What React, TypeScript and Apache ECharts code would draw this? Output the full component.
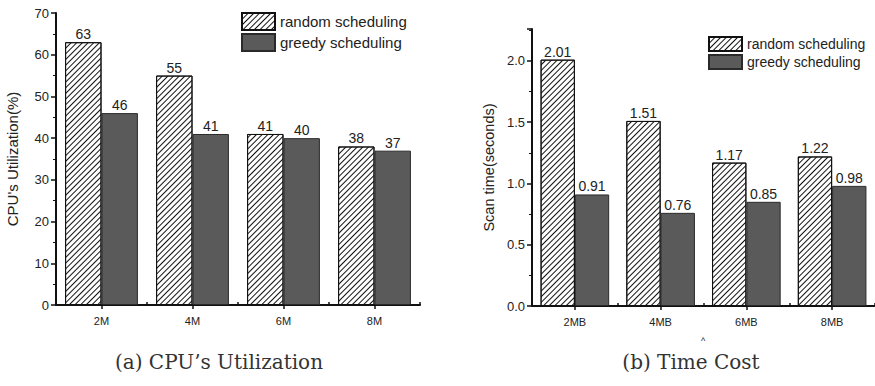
import React, { useEffect, useRef } from "react";
import * as echarts from "echarts";

const cpuCategories = ["2M", "4M", "6M", "8M"];
const cpuRandom = [63, 55, 41, 38];
const cpuGreedy = [46, 41, 40, 37];

const timeCategories = ["2MB", "4MB", "6MB", "8MB"];
const timeRandom = [2.01, 1.51, 1.17, 1.22];
const timeGreedy = [0.91, 0.76, 0.85, 0.98];

const seriesNames = ["random scheduling", "greedy scheduling"];

export default function App() {
  const ref = useRef<HTMLDivElement>(null);
  useEffect(() => {
    if (!ref.current) return;
    const chart = echarts.init(ref.current, undefined, { renderer: "svg" });
    const sans = "Liberation Sans";
    const serif = "DejaVu Serif";
    const hatch = {
      symbol: "rect",
      symbolSize: 1,
      color: "#111",
      backgroundColor: "#fff",
      dashArrayX: [1, 0],
      dashArrayY: [1, 3],
      rotation: -Math.PI / 4,
    };
    const randomStyle = { color: "#fff", borderColor: "#111", borderWidth: 1, decal: hatch };
    const greedyStyle = { color: "#5a5a5a", borderColor: "#2a2a2a", borderWidth: 1 };
    const labelBase = { show: true, position: "top", distance: 1, color: "#222", fontFamily: sans, fontSize: 14 };

    const mkX = (gi: number, cats: string[]) => [
      {
        type: "category",
        gridIndex: gi,
        data: cats,
        axisLine: { lineStyle: { color: "#111", width: 2 } },
        axisTick: { show: true, alignWithLabel: true, length: 4, lineStyle: { color: "#111", width: 1.5 } },
        axisLabel: { color: "#222", fontFamily: sans, fontSize: 11, margin: 10 },
      },
      {
        type: "category",
        gridIndex: gi,
        data: cats,
        position: "bottom",
        axisLine: { show: false },
        axisTick: { show: true, inside: true, length: 3, lineStyle: { color: "#111", width: 1.5 } },
        axisLabel: { show: false },
      },
    ];

    const mkY = (gi: number, min: number, max: number, interval: number, name: string, fmt: (v: number) => string, nameSize: number) => ({
      type: "value",
      gridIndex: gi,
      min,
      max,
      interval,
      name,
      nameLocation: "middle",
      nameGap: 36,
      nameTextStyle: { color: "#222", fontFamily: sans, fontSize: nameSize },
      axisLine: { show: true, lineStyle: { color: "#111", width: 2 } },
      axisTick: { show: true, length: 5, lineStyle: { color: "#111", width: 1.5 } },
      minorTick: { show: true, splitNumber: 2, length: 3, lineStyle: { color: "#111", width: 1 } },
      splitLine: { show: false },
      axisLabel: { color: "#222", fontFamily: sans, fontSize: 13, margin: 7, showMaxLabel: max % interval === 0, formatter: fmt },
    });

    chart.setOption({
      animation: false,
      backgroundColor: "#fff",
      grid: [
        { left: 56, top: 13, width: 364, bottom: 81 },
        { left: 532, top: 29, width: 344, bottom: 80 },
      ],
      legend: [
        {
          data: seriesNames,
          orient: "vertical",
          left: 241,
          top: 12,
          icon: "rect",
          itemWidth: 33,
          itemHeight: 17,
          itemGap: 2,
          textStyle: { color: "#222", fontFamily: sans, fontSize: 15 },
          padding: 0,
        },
        {
          data: seriesNames,
          orient: "vertical",
          left: 708,
          top: 36,
          icon: "rect",
          itemWidth: 33,
          itemHeight: 14,
          itemGap: 2,
          textStyle: { color: "#222", fontFamily: sans, fontSize: 14 },
          padding: 0,
        },
      ],
      xAxis: [...mkX(0, cpuCategories), ...mkX(1, timeCategories)],
      yAxis: [
        mkY(0, 0, 70, 10, "CPU's Utilization(%)", (v: number) => String(v), 15),
        mkY(1, 0, 2.26, 0.5, "Scan time(seconds)", (v: number) => v.toFixed(1), 14.5),
      ],
      graphic: [
        {
          type: "text",
          x: 219,
          y: 362,
          style: { text: "(a) CPU\u2019s Utilization", fontFamily: serif, fontSize: 20, fill: "#333", align: "center", verticalAlign: "middle" },
        },
        {
          type: "text",
          x: 691,
          y: 362,
          style: { text: "(b) Time Cost", fontFamily: serif, fontSize: 20, fill: "#333", align: "center", verticalAlign: "middle" },
        },
        {
          type: "text",
          x: 703,
          y: 341,
          style: { text: "^", fontFamily: sans, fontSize: 9, fill: "#222", align: "center", verticalAlign: "middle" },
        },
      ],
      series: [
        {
          name: seriesNames[0], type: "bar", xAxisIndex: 0, yAxisIndex: 0, data: cpuRandom,
          barWidth: "40%", barGap: "0%", itemStyle: randomStyle, label: labelBase,
        },
        {
          name: seriesNames[1], type: "bar", xAxisIndex: 0, yAxisIndex: 0, data: cpuGreedy,
          barWidth: "40%", barGap: "0%", itemStyle: greedyStyle, label: labelBase,
        },
        {
          name: seriesNames[0], type: "bar", xAxisIndex: 2, yAxisIndex: 1, data: timeRandom,
          barWidth: "40%", barGap: "0%", itemStyle: randomStyle,
          label: { ...labelBase, formatter: (p: any) => p.value.toFixed(2) },
        },
        {
          name: seriesNames[1], type: "bar", xAxisIndex: 2, yAxisIndex: 1, data: timeGreedy,
          barWidth: "40%", barGap: "0%", itemStyle: greedyStyle,
          label: { ...labelBase, formatter: (p: any) => p.value.toFixed(2) },
        },
      ],
    });
    return () => chart.dispose();
  }, []);
  return <div ref={ref} style={{ position: "fixed", left: 0, top: 0, width: 875, height: 386 }} />;
}
